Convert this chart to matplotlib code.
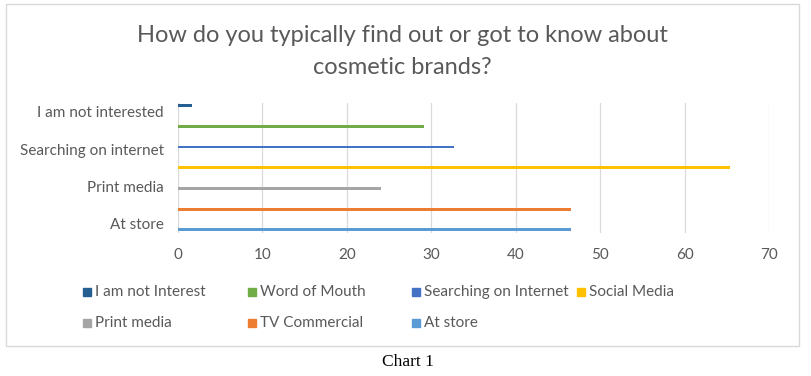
import numpy as np
import matplotlib.pyplot as plt
from matplotlib.patches import Rectangle

plt.rcParams['font.family'] = ['Lato', 'DejaVu Sans']

# Categories (bottom to top) and one series per category
categories = ['At store', 'TV Commercial', 'Print media', 'Social Media',
              'Searching on internet', 'Word of Mouth', 'I am not interested']
series_names = ['At store', 'TV Commercial', 'Print media', 'Social Media',
                'Searching on Internet', 'Word of Mouth', 'I am not Interest']
values = [46.5, 46.5, 24.0, 65.3, 32.7, 29.2, 1.7]
colors = ['#5b9bd5', '#ed7d31', '#a5a5a5', '#ffc000', '#4472c4', '#70ad47', '#255e91']
tick_labels = ['At store', '', 'Print media', '', 'Searching on internet', '', 'I am not interested']

grey = '#595959'

fig = plt.figure(figsize=(8.11, 3.76), dpi=100)

# outer chart frame
fig.add_artist(Rectangle((6 / 811, 1 - 346 / 376), (799 - 6) / 811, (346 - 4.3) / 376,
                         transform=fig.transFigure, fill=False, edgecolor='#d9d9d9', lw=1))

ax = fig.add_axes([177.7 / 811, 1 - 232.7 / 376, (769.3 - 177.7) / 811, 130 / 376])

n = len(series_names)
w = 0.115
y = np.arange(n)
for i in range(n):
    ax.barh(i + (i - (n - 1) / 2) * w, values[i], height=0.15, color=colors[i],
            label=series_names[i])

ax.set_xlim(0, 70)
ax.set_ylim(-0.5, n - 0.5)
ax.set_xticks(np.arange(0, 71, 10))
ax.set_yticks(y)
ax.set_yticklabels(tick_labels)
ax.grid(axis='x', color='#d9d9d9', lw=0.9)
ax.set_axisbelow(True)
for s in ax.spines.values():
    s.set_visible(False)
ax.tick_params(length=0, colors=grey, labelsize=11)
ax.tick_params(axis='x', pad=11)
ax.tick_params(axis='y', pad=10)

fig.text(402 / 811, 1 - 35 / 376, 'How do you typically find out or got to know about',
         ha='center', va='center', fontsize=17, color=grey)
fig.text(402 / 811, 1 - 68 / 376, 'cosmetic brands?',
         ha='center', va='center', fontsize=17, color=grey)

# legend laid out in rows like the original
order = [6, 5, 4, 3, 2, 1, 0]
for k, idx in enumerate(order):
    col, row = k % 4, k // 4
    x0 = 83 + col * 164.7
    y0 = 292 + row * 31
    fig.add_artist(Rectangle((x0 / 811, 1 - (y0 + 4) / 376), 8 / 811, 8 / 376,
                             transform=fig.transFigure, color=colors[idx]))
    fig.text((x0 + 12) / 811, 1 - y0 / 376, series_names[idx], ha='left', va='center',
             fontsize=11, color=grey)

fig.text(408 / 811, 1 - 362 / 376, 'Chart 1', ha='center', va='center',
         fontsize=12.5, family='Liberation Serif', color='black')

plt.savefig('out.png', dpi=100)
